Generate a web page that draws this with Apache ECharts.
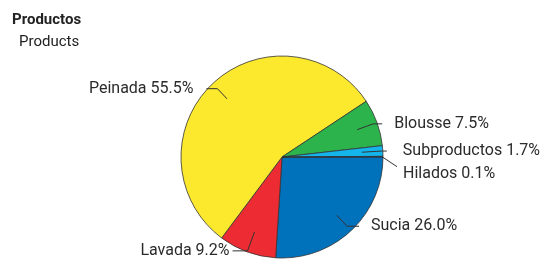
<!DOCTYPE html>
<html>
<head>
<meta charset="utf-8">
<script src="https://cdn.jsdelivr.net/npm/echarts@6/dist/echarts.min.js"></script>
<style>
  html, body { margin: 0; padding: 0; background: #fff; }
  #chart { width: 547px; height: 264px; }
</style>
</head>
<body>
<div id="chart"></div>
<script>
  // datos del grafico
  const categories = ['Sucia', 'Lavada', 'Peinada', 'Blousse', 'Subproductos', 'Hilados'];
  const shares = [26.0, 9.2, 55.5, 7.5, 1.7, 0.1];
  const colors = ['#0072bc', '#ec2b32', '#fce82c', '#2db34b', '#14b5ea', '#1f4f9e'];

  // guias de etiqueta (largo radial, largo horizontal, separacion)
  const lineLen = [15, 20, 14, 17, 20, 20];
  const lineLen2 = [12, 15, 11, 9, 5, 15];
  const labelGap = [12, 3, 13, 12, 16, 6];

  const font = "Roboto, 'Liberation Sans Narrow', sans-serif";

  const pieData = categories.map(function (c, i) {
    return { name: c, value: shares[i], itemStyle: { color: colors[i] } };
  });

  const labelData = categories.map(function (c, i) {
    return {
      name: c,
      value: shares[i],
      label: { distanceToLabelLine: labelGap[i] },
      labelLine: { length: lineLen[i], length2: lineLen2[i] }
    };
  });

  let myChart = echarts.init(document.getElementById('chart'));

  let option = {
    animation: false,
    title: [
      {
        text: 'Productos',
        left: 12, top: 13, padding: 0,
        textStyle: { fontFamily: font, fontSize: 15, fontWeight: 'bold', color: '#222' }
      },
      {
        text: 'Products',
        left: 19, top: 35, padding: 0,
        textStyle: { fontFamily: font, fontSize: 15, fontWeight: 'normal', color: '#222' }
      }
    ],
    series: [
      {
        name: 'pie',
        type: 'pie',
        center: [282, 157],
        radius: 101,
        startAngle: 0,
        clockwise: true,
        silent: true,
        z: 2,
        label: { show: false },
        labelLine: { show: false },
        itemStyle: { borderColor: '#333', borderWidth: 0.8 },
        data: pieData
      },
      {
        // serie interna transparente para que las guias nazcan dentro del sector
        name: 'labels',
        type: 'pie',
        center: [282, 157],
        radius: 80,
        startAngle: 0,
        clockwise: true,
        silent: true,
        z: 3,
        avoidLabelOverlap: false,
        itemStyle: { color: 'rgba(0,0,0,0)', borderWidth: 0 },
        label: {
          show: true,
          position: 'outside',
          fontFamily: font,
          fontSize: 16,
          color: '#2b2b2b',
          formatter: function (p) { return p.name + ' ' + p.value.toFixed(1) + '%'; }
        },
        labelLine: {
          show: true,
          lineStyle: { color: '#333', width: 1 }
        },
        labelLayout: function (p) {
          if (p.dataIndex !== 5) return {};
          const lp = p.labelLinePoints;
          const dy = 17;
          return {
            dy: dy,
            labelLinePoints: [lp[1], [lp[2][0], lp[2][1] + dy - 7]]
          };
        },
        data: labelData
      }
    ]
  };

  myChart.setOption(option);
  window.addEventListener('resize', function () { myChart.resize(); });
</script>
</body>
</html>
